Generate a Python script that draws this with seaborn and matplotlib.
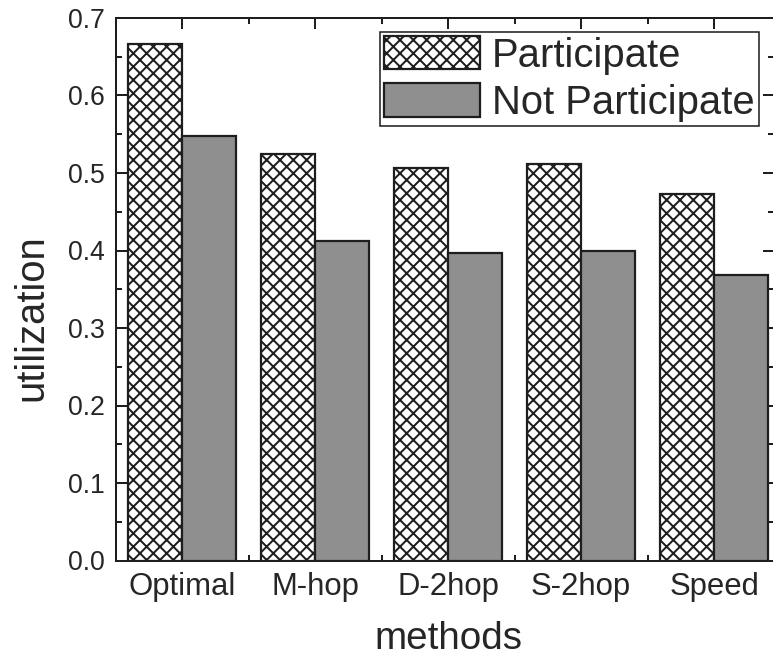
import matplotlib
matplotlib.use("Agg")
import matplotlib.pyplot as plt
from matplotlib.ticker import MultipleLocator, FixedLocator
import pandas as pd
import seaborn as sns

# Utilization per method, split by participation
methods = ["Optimal", "M-hop", "D-2hop", "S-2hop", "Speed"]
groups = ["Participate", "Not Participate"]
participate = [0.667, 0.525, 0.506, 0.512, 0.473]
not_participate = [0.548, 0.412, 0.397, 0.400, 0.369]

df = pd.DataFrame({
    "methods": methods * 2,
    "group": [groups[0]] * len(methods) + [groups[1]] * len(methods),
    "utilization": participate + not_participate,
})

sns.set_style("ticks")
plt.rcParams["font.family"] = ["Liberation Sans", "DejaVu Sans"]
plt.rcParams["hatch.linewidth"] = 0.9

DPI = 160
fig = plt.figure(figsize=(773 / DPI, 661 / DPI), dpi=DPI)
ax = fig.add_axes([116 / 773, 1 - 560.5 / 661, 658 / 773, 542.5 / 661])

edge = "#1e1e1e"
sns.barplot(
    data=df, x="methods", y="utilization", hue="group",
    order=methods, hue_order=groups,
    palette={groups[0]: "white", groups[1]: "#8f8f8f"},
    saturation=1, width=0.81, edgecolor=edge, linewidth=1.0,
    ax=ax, legend=False,
)

# Dense cross-hatch on the "Participate" bars
for bar in ax.containers[0]:
    bar.set_hatch("xxxx")

ax.set_xlim(-0.496, 4.45)
ax.set_ylim(0, 0.7)

# Axis frame and ticks on all four sides, pointing inward
for s in ax.spines.values():
    s.set_visible(True)
    s.set_linewidth(0.9)
    s.set_color(edge)

ax.yaxis.set_major_locator(MultipleLocator(0.1))
ax.yaxis.set_minor_locator(MultipleLocator(0.05))
ax.xaxis.set_minor_locator(FixedLocator([0.5, 1.5, 2.5, 3.5]))
ax.tick_params(which="both", direction="in", top=True, right=True,
               color=edge, width=0.9)
ax.tick_params(which="major", length=4.8)
ax.tick_params(which="minor", length=2.7)
ax.tick_params(axis="y", which="major", labelsize=12, pad=5)
ax.tick_params(axis="x", which="major", labelsize=14, pad=5)

ax.set_xlabel("methods", fontsize=17.4)
ax.set_ylabel("utilization", fontsize=18)
ax.xaxis.set_label_coords(0.506, -0.1115)
ax.yaxis.set_label_coords(-0.0995, 0.448)

handles = [ax.containers[0][0], ax.containers[1][0]]
leg = ax.legend(
    handles, groups, loc="upper right", bbox_to_anchor=(0.977, 0.974),
    borderaxespad=0, fontsize=18, frameon=True, fancybox=False,
    framealpha=1, edgecolor=edge, handlelength=2.4, handleheight=0.9,
    handletextpad=0.3, borderpad=0.1, labelspacing=0.22,
)
leg.get_frame().set_linewidth(0.7)

fig.savefig("out.png", dpi=DPI)
